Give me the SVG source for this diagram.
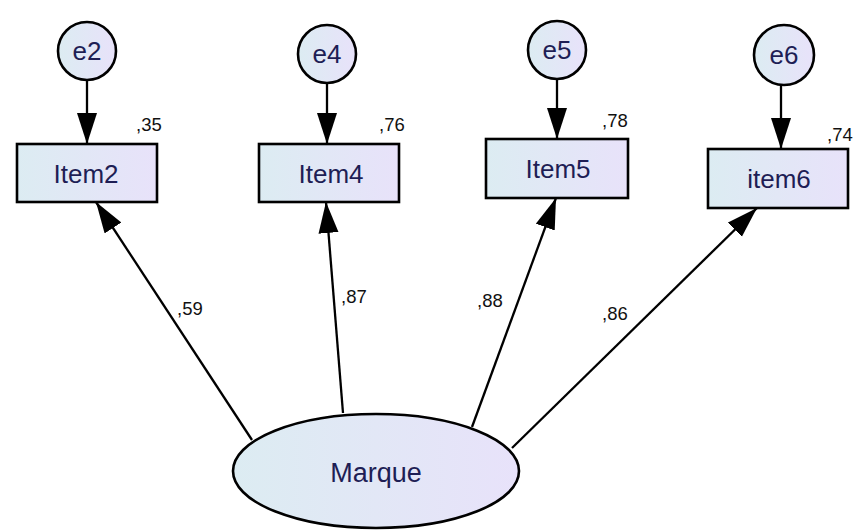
<svg xmlns="http://www.w3.org/2000/svg" width="857" height="532" viewBox="0 0 857 532">
<defs>
<linearGradient id="fillG" x1="0" y1="0" x2="1" y2="0">
<stop offset="0" stop-color="#dcecf2"/>
<stop offset="1" stop-color="#e8e2fa"/>
</linearGradient>
<marker id="arr" markerUnits="userSpaceOnUse" markerWidth="34" markerHeight="22" refX="31" refY="10" orient="auto">
<path d="M0,0 L31,10 L0,20 Z" fill="#000"/>
</marker>
<style>
.node{fill:url(#fillG);stroke:#000;stroke-width:2.6}
.lbl{font-family:"Liberation Sans",Arial,sans-serif;fill:#1e1e55;text-anchor:middle}
.big{font-size:26px}
.num{font-family:"Liberation Sans",Arial,sans-serif;font-size:18.5px;fill:#111}
.con{stroke:#000;stroke-width:2.3;fill:none;marker-end:url(#arr)}
</style>
</defs>
<rect width="857" height="532" fill="#fff"/>
<g id="connectors">
<line class="con" x1="87" y1="80" x2="87" y2="144"/>
<line class="con" x1="327" y1="83" x2="327" y2="144"/>
<line class="con" x1="557" y1="80" x2="557" y2="139"/>
<line class="con" x1="781" y1="85" x2="781" y2="149"/>
<line class="con" x1="252" y1="440" x2="96" y2="202"/>
<line class="con" x1="343" y1="413" x2="326" y2="202"/>
<line class="con" x1="472" y1="427" x2="556" y2="198"/>
<line class="con" x1="512" y1="448" x2="757" y2="208"/>
</g>
<g id="e2"><circle class="node" cx="87" cy="51" r="29"/><text class="lbl big" x="87" y="60">e2</text></g>
<g id="e4"><circle class="node" cx="327" cy="54" r="29"/><text class="lbl big" x="327" y="63">e4</text></g>
<g id="e5"><circle class="node" cx="557" cy="50" r="29"/><text class="lbl big" x="557" y="59">e5</text></g>
<g id="e6"><circle class="node" cx="784" cy="55" r="30"/><text class="lbl big" x="784" y="64">e6</text></g>
<g id="Item2"><rect class="node" x="17" y="144" width="140" height="58"/><text class="lbl big" x="86" y="183">Item2</text><text class="num" x="136" y="131">,35</text></g>
<g id="Item4"><rect class="node" x="259" y="144" width="140" height="58"/><text class="lbl big" x="331" y="183">Item4</text><text class="num" x="379" y="131">,76</text></g>
<g id="Item5"><rect class="node" x="486" y="139" width="142" height="59"/><text class="lbl big" x="558" y="178">Item5</text><text class="num" x="602" y="127">,78</text></g>
<g id="item6"><rect class="node" x="708" y="149" width="140" height="59"/><text class="lbl big" x="779" y="188">item6</text><text class="num" x="827" y="141">,74</text></g>
<g id="Marque"><ellipse class="node" cx="376" cy="471" rx="143" ry="57"/><text class="lbl" x="376" y="482" font-size="27">Marque</text></g>
<g id="loadings">
<text class="num" x="177" y="315">,59</text>
<text class="num" x="341" y="303">,87</text>
<text class="num" x="477" y="307">,88</text>
<text class="num" x="602" y="320">,86</text>
</g>
</svg>
